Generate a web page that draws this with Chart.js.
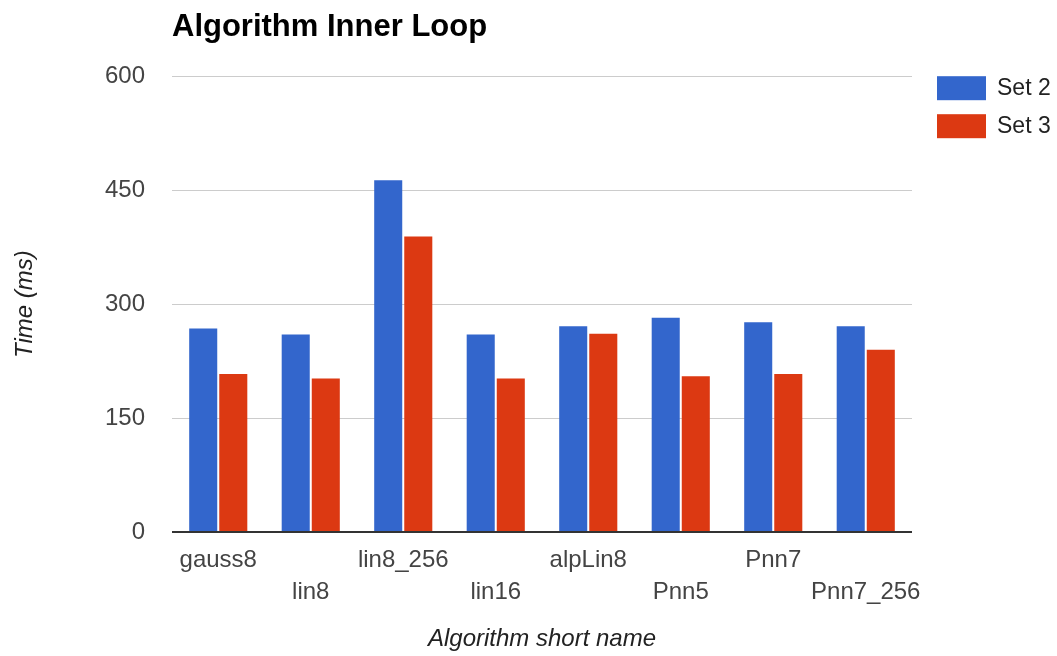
<!DOCTYPE html>
<html>
<head>
<meta charset="utf-8">
<script src="https://cdn.jsdelivr.net/npm/chart.js@4/dist/chart.umd.min.js"></script>
<style>
  html, body { margin: 0; padding: 0; background: #ffffff; }
  #wrap { width: 1057px; height: 656px; }
</style>
</head>
<body>
<div id="wrap"><canvas id="c" width="1057" height="656"></canvas></div>
<script>
// Inner-loop timings per algorithm, two measurement sets (ms)
const categories = ['gauss8', 'lin8', 'lin8_256', 'lin16', 'alpLin8', 'Pnn5', 'Pnn7', 'Pnn7_256'];
const set2 = [268, 260, 463, 260, 271, 282, 276, 271];
const set3 = [208, 202, 389, 202, 261, 205, 208, 240];
const seriesNames = ['Set 2', 'Set 3'];
const seriesColors = ['#3366cc', '#dc3912'];
const yTicks = [0, 150, 300, 450, 600];

const FONT = "'Liberation Sans', Arial, sans-serif";

// Legend drawn beside the plot area, top-aligned with it
const sideLegend = {
  id: 'sideLegend',
  afterDraw(chart) {
    const { ctx, chartArea } = chart;
    const x0 = chartArea.right + 25;
    const y0 = chartArea.top;
    ctx.save();
    ctx.font = '23px ' + FONT;
    ctx.textBaseline = 'middle';
    ctx.textAlign = 'left';
    chart.data.datasets.forEach((ds, i) => {
      const y = y0 + i * 38;
      ctx.fillStyle = ds.backgroundColor;
      ctx.fillRect(x0, y, 49, 24);
      ctx.fillStyle = '#222222';
      ctx.fillText(ds.label, x0 + 60, y + 12);
    });
    ctx.restore();
  }
};

new Chart(document.getElementById('c'), {
  type: 'bar',
  data: {
    labels: categories,
    datasets: [
      { label: seriesNames[0], data: set2, backgroundColor: seriesColors[0], borderWidth: 0,
        categoryPercentage: 0.65, barPercentage: 0.933 },
      { label: seriesNames[1], data: set3, backgroundColor: seriesColors[1], borderWidth: 0,
        categoryPercentage: 0.65, barPercentage: 0.933 }
    ]
  },
  options: {
    responsive: false,
    devicePixelRatio: 1,
    animation: false,
    layout: { padding: { left: 0, right: 145, top: 0, bottom: 0 } },
    plugins: {
      legend: { display: false },
      tooltip: { enabled: false },
      title: {
        display: true,
        text: 'Algorithm Inner Loop',
        align: 'start',
        fullSize: false,
        color: '#000000',
        font: { family: FONT, size: 31, weight: 'bold', lineHeight: 1.2 },
        padding: { top: 9, bottom: 30 }
      }
    },
    scales: {
      x: {
        grid: { display: false, drawTicks: false },
        border: { display: false },
        ticks: {
          autoSkip: false,
          maxRotation: 0,
          minRotation: 0,
          padding: 12,
          color: '#444444',
          font: { family: FONT, size: 24, lineHeight: '32px' },
          // alternate labels drop to a second row
          callback(value, index) {
            const name = categories[index];
            return index % 2 ? ['', name] : name;
          }
        },
        title: {
          display: true,
          text: 'Algorithm short name',
          color: '#222222',
          font: { family: FONT, size: 24, style: 'italic', lineHeight: 1.2 },
          padding: { top: 0, bottom: 2 }
        },
        afterFit(scale) { scale.height = 124; }
      },
      y: {
        min: 0,
        max: 600,
        afterBuildTicks(scale) { scale.ticks = yTicks.map(v => ({ value: v })); },
        grid: {
          drawTicks: false,
          lineWidth: ctx => (ctx.tick && ctx.tick.value === 0 ? 2 : 1),
          color: ctx => (ctx.tick && ctx.tick.value === 0 ? '#333333' : '#cccccc')
        },
        border: { display: false },
        ticks: {
          padding: 27,
          color: '#444444',
          font: { family: FONT, size: 24 }
        },
        title: {
          display: true,
          text: 'Time (ms)',
          color: '#222222',
          font: { family: FONT, size: 24, style: 'italic', lineHeight: 1.2 },
          padding: { top: 11, bottom: 0 }
        },
        afterFit(scale) { scale.width = 172; }
      }
    }
  },
  plugins: [sideLegend]
});
</script>
</body>
</html>
